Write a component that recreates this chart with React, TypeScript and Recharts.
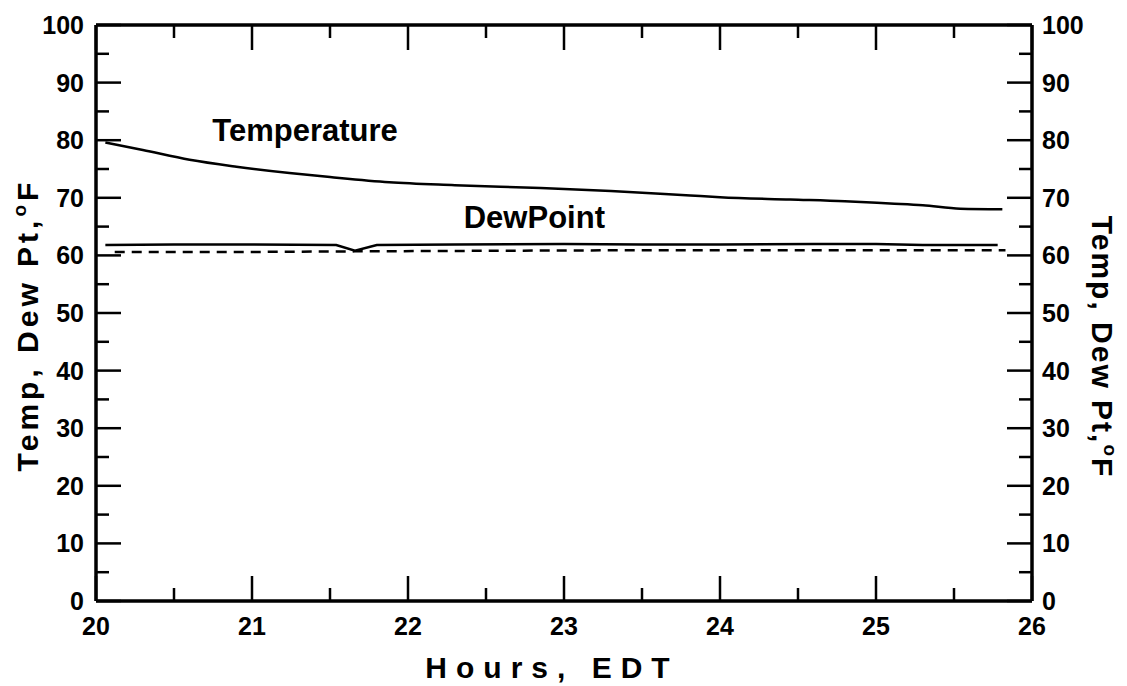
import React from 'react';
import { LineChart, Line, XAxis, YAxis, ReferenceDot } from 'recharts';

// ---- data ----
const tempHours = [20.06, 20.3, 20.6, 20.9, 21.24, 21.5, 21.88, 22.3, 22.85, 23.3, 23.81, 24.0, 24.45, 24.8, 25.09, 25.3, 25.54, 25.81];
const tempValues = [79.6, 78.3, 76.6, 75.4, 74.3, 73.6, 72.7, 72.2, 71.7, 71.2, 70.4, 70.1, 69.7, 69.4, 69.0, 68.7, 68.1, 68.0];

const dewHours = [20.06, 20.5, 21.0, 21.54, 21.66, 21.8, 22.3, 23.0, 23.5, 24.0, 24.6, 25.0, 25.3, 25.78];
const dewValues = [61.8, 61.9, 61.9, 61.8, 60.8, 61.8, 61.9, 62.0, 61.9, 61.9, 62.0, 62.0, 61.8, 61.8];

const dashHours = [20.12, 21.0, 21.66, 22.5, 23.5, 24.5, 25.83];
const dashValues = [60.6, 60.6, 60.7, 60.8, 60.9, 60.9, 60.9];

const xTicks = [20, 20.5, 21, 21.5, 22, 22.5, 23, 23.5, 24, 24.5, 25, 25.5, 26];
const yTicks = [0, 5, 10, 15, 20, 25, 30, 35, 40, 45, 50, 55, 60, 65, 70, 75, 80, 85, 90, 95, 100];

const yTitle = 'Temp, Dew Pt,';
const xTitle = 'Hours, EDT';

const tempData = tempHours.map((h, i) => ({ h, v: tempValues[i] }));
const dewData = dewHours.map((h, i) => ({ h, v: dewValues[i] }));
const dashData = dashHours.map((h, i) => ({ h, v: dashValues[i] }));

const FONT = '"Liberation Sans", Arial, Helvetica, sans-serif';
const MAJOR = 25;
const MINOR = 13;
const TW = 2.5;
const TC = '#000';

const isMajor = (v: number, step: number) => Math.abs(v / step - Math.round(v / step)) < 1e-6;

const renderBottomTick = (props: any) => {
  const { x, y, payload } = props;
  const v = Number(payload.value);
  const major = isMajor(v, 1);
  return (
    <g key={`b${v}`}>
      <path d={`M${x},${y}V${y - (major ? MAJOR : MINOR)}`} stroke={TC} strokeWidth={TW} fill="none" />
      {major && (
        <text x={x} y={y + 34} textAnchor="middle" fontFamily={FONT} fontWeight="bold" fontSize={25} fill="#000">
          {v}
        </text>
      )}
    </g>
  );
};

const renderTopTick = (props: any) => {
  const { x, y, payload } = props;
  const v = Number(payload.value);
  const major = isMajor(v, 1);
  return (
    <g key={`t${v}`}>
      <path d={`M${x},${y}V${y + (major ? MAJOR : MINOR)}`} stroke={TC} strokeWidth={TW} fill="none" />
    </g>
  );
};

const renderLeftTick = (props: any) => {
  const { x, y, payload } = props;
  const v = Number(payload.value);
  const major = isMajor(v, 10);
  return (
    <g key={`l${v}`}>
      <path d={`M${x},${y}H${x + (major ? MAJOR : MINOR)}`} stroke={TC} strokeWidth={TW} fill="none" />
      {major && (
        <text x={x - 12} y={y + 9} textAnchor="end" fontFamily={FONT} fontWeight="bold" fontSize={25} fill="#000">
          {v}
        </text>
      )}
    </g>
  );
};

const renderRightTick = (props: any) => {
  const { x, y, payload } = props;
  const v = Number(payload.value);
  const major = isMajor(v, 10);
  return (
    <g key={`r${v}`}>
      <path d={`M${x},${y}H${x - (major ? MAJOR : MINOR)}`} stroke={TC} strokeWidth={TW} fill="none" />
      {major && (
        <text x={x + 10} y={y + 9} textAnchor="start" fontFamily={FONT} fontWeight="bold" fontSize={25} fill="#000">
          {v}
        </text>
      )}
    </g>
  );
};

const XTitle = (props: any) => {
  const vb = props.viewBox;
  return (
    <text x={vb.x + vb.width / 2 - 12} y={vb.y + 77} textAnchor="middle" fontFamily={FONT} fontWeight="bold" fontSize={30} letterSpacing={9} fill="#000">
      {xTitle}
    </text>
  );
};

const LeftTitle = (props: any) => {
  const vb = props.viewBox;
  const cx = 38;
  const cy = vb.y + vb.height / 2 + 12;
  return (
    <text x={cx} y={cy} transform={`rotate(-90 ${cx} ${cy})`} textAnchor="middle" fontFamily={FONT} fontWeight="bold" fontSize={30} letterSpacing={4} fill="#000">
      {yTitle}
      <tspan fontSize={19} dy={-12}>o</tspan>
      <tspan fontSize={30} dy={12}>F</tspan>
    </text>
  );
};

const RightTitle = (props: any) => {
  const vb = props.viewBox;
  const cx = 1092;
  const cy = vb.y + vb.height / 2 + 34;
  return (
    <text x={cx} y={cy} transform={`rotate(90 ${cx} ${cy})`} textAnchor="middle" fontFamily={FONT} fontWeight="bold" fontSize={30} letterSpacing={2} fill="#000">
      {yTitle}
      <tspan fontSize={19} dy={-12}>o</tspan>
      <tspan fontSize={30} dy={12}>F</tspan>
    </text>
  );
};

const Anno = (props: any) => {
  const vb = props.viewBox;
  const cx = vb.x + vb.width / 2;
  const cy = vb.y + vb.height / 2;
  return (
    <text x={cx} y={cy + 11} textAnchor="middle" fontFamily={FONT} fontWeight="bold" fontSize={31} fill="#000">
      {props.text}
    </text>
  );
};

const axisLine = { stroke: '#000', strokeWidth: 3.5 };

export default function App() {
  return (
    <div style={{ position: 'absolute', left: 0, top: 0, background: '#fff' }}>
      <LineChart width={1127} height={686} margin={{ top: 24, right: 0, bottom: 0, left: 0 }}>
        <XAxis dataKey="h" type="number" domain={[20, 26]} ticks={xTicks} interval={0} height={85} axisLine={axisLine} tickLine={false} tickSize={0} tickMargin={0} tick={renderBottomTick} allowDataOverflow label={<XTitle />} />
        <XAxis xAxisId="top" orientation="top" dataKey="h" type="number" domain={[20, 26]} ticks={xTicks} interval={0} height={1} axisLine={axisLine} tickLine={false} tickSize={0} tickMargin={0} tick={renderTopTick} allowDataOverflow />
        <YAxis type="number" domain={[0, 100]} ticks={yTicks} interval={0} width={96} axisLine={axisLine} tickLine={false} tickSize={0} tickMargin={0} tick={renderLeftTick} allowDataOverflow label={<LeftTitle />} />
        <YAxis yAxisId="right" orientation="right" type="number" domain={[0, 100]} ticks={yTicks} interval={0} width={95} axisLine={axisLine} tickLine={false} tickSize={0} tickMargin={0} tick={renderRightTick} allowDataOverflow label={<RightTitle />} />
        <Line data={tempData} dataKey="v" type="monotone" stroke="#000" strokeWidth={2.5} dot={false} isAnimationActive={false} />
        <Line data={dewData} dataKey="v" type="linear" stroke="#000" strokeWidth={2.5} dot={false} isAnimationActive={false} />
        <Line data={dashData} dataKey="v" type="linear" stroke="#000" strokeWidth={2.5} strokeDasharray="10 7" dot={false} isAnimationActive={false} />
        <ReferenceDot x={21.34} y={81.7} r={0} fill="none" stroke="none" label={<Anno text="Temperature" />} />
        <ReferenceDot x={22.81} y={66.7} r={0} fill="none" stroke="none" label={<Anno text="DewPoint" />} />
      </LineChart>
    </div>
  );
}
